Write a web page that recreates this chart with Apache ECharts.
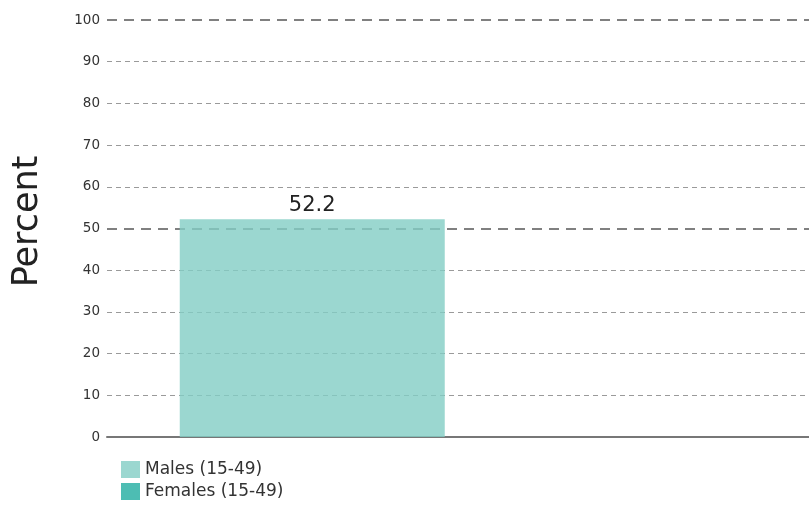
<!DOCTYPE html>
<html>
<head>
<meta charset="utf-8">
<script src="https://cdn.jsdelivr.net/npm/echarts@6/dist/echarts.min.js"></script>
<style>
  html, body { margin: 0; padding: 0; background: #fff; }
  #chart { width: 809px; height: 507px; }
</style>
</head>
<body>
<div id="chart"></div>
<script>
// Categories and series values
const categories = [''];
const seriesNames = ['Males (15-49)', 'Females (15-49)'];
const malesValues = [52.2];
const femalesValues = [null];
// Horizontal guide lines: regular ones and the heavier ones at 50 and 100
const guideLines = [10, 20, 30, 40, 60, 70, 80, 90];
const heavyLines = [50, 100];

const FONT = 'DejaVu Sans';

const thinStyle = { color: '#9a9a9a', width: 1, type: [5, 4], opacity: 1 };
const heavyStyle = { color: '#808080', width: 2, type: [10, 7], opacity: 1 };

const chart = echarts.init(document.getElementById('chart'), null, { renderer: 'canvas' });

chart.setOption({
  animation: false,
  textStyle: { fontFamily: FONT },
  grid: { left: 107, right: 0, top: 20, bottom: 70, containLabel: false },
  legend: {
    orient: 'vertical',
    left: 121,
    top: 461,
    padding: 0,
    itemWidth: 19,
    itemHeight: 17,
    itemGap: 5,
    icon: 'rect',
    textStyle: { fontSize: 17, lineHeight: 17, color: '#333', fontFamily: FONT },
    data: seriesNames
  },
  xAxis: {
    type: 'category',
    data: categories,
    axisLine: { show: true, lineStyle: { color: '#777', width: 2 } },
    axisTick: { show: false },
    axisLabel: { show: false },
    splitLine: { show: false }
  },
  yAxis: {
    type: 'value',
    min: 0,
    max: 100,
    interval: 10,
    name: 'Percent',
    nameLocation: 'middle',
    nameGap: 62,
    nameTextStyle: { fontSize: 35, color: '#222', fontFamily: FONT, padding: [0, 0, 0, 14] },
    axisLine: { show: false },
    axisTick: { show: false },
    axisLabel: { fontSize: 13.5, color: '#333', margin: 7, fontFamily: FONT },
    splitLine: { show: false }
  },
  series: [
    {
      name: seriesNames[0],
      type: 'bar',
      data: malesValues,
      barWidth: 265,
      barGap: '10%',
      z: 3,
      itemStyle: { color: 'rgba(130,205,196,0.8)' },
      label: {
        show: true,
        position: 'top',
        distance: 3,
        fontSize: 21,
        color: '#222',
        fontFamily: FONT,
        formatter: p => p.value.toFixed(1)
      },
      markLine: {
        silent: true,
        symbol: 'none',
        z: 1,
        label: { show: false },
        emphasis: { disabled: true },
        data: guideLines.map(v => ({ yAxis: v, lineStyle: thinStyle }))
          .concat(heavyLines.map(v => ({ yAxis: v, lineStyle: heavyStyle })))
      }
    },
    {
      name: seriesNames[1],
      type: 'bar',
      data: femalesValues,
      barWidth: 265,
      z: 3,
      itemStyle: { color: '#4dbdb3' }
    }
  ]
});
</script>
</body>
</html>
